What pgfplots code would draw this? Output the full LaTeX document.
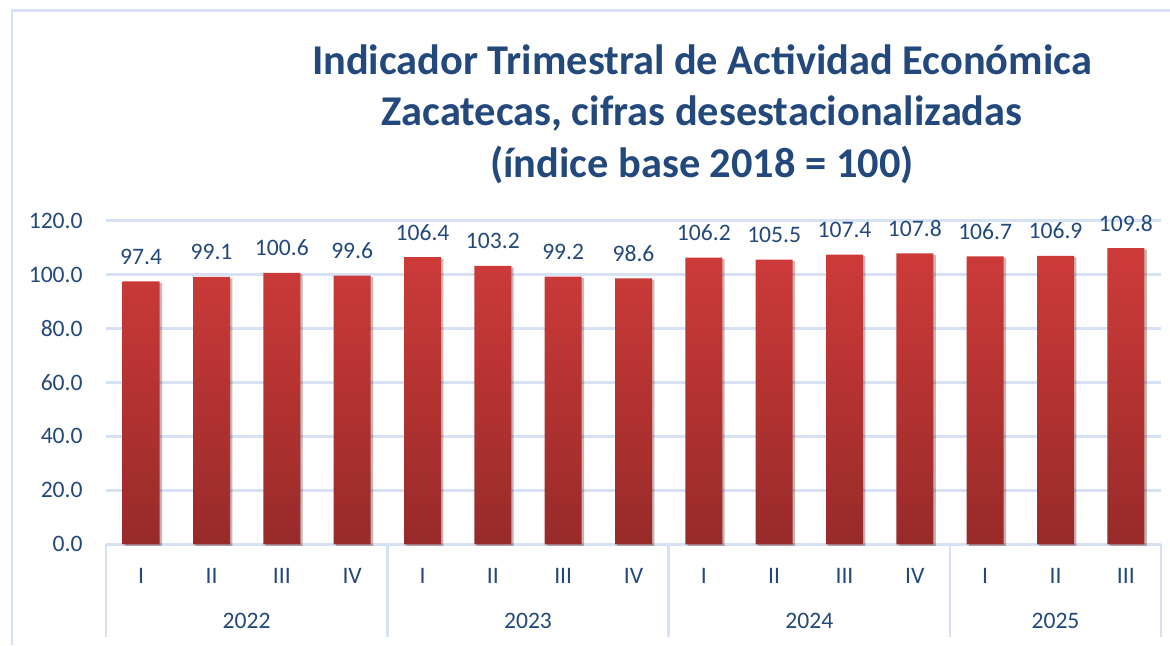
\documentclass[border=0pt]{standalone}
\usepackage{fontspec}
\setmainfont{Carlito}
\usepackage{pgfplots}
\usetikzlibrary{shadows}
\pgfplotsset{compat=1.18}
\definecolor{txtblue}{RGB}{34,72,124}
\definecolor{gridc}{RGB}{214,226,243}
\definecolor{bartop}{RGB}{206,59,57}
\definecolor{barbot}{RGB}{152,42,42}
\begin{document}
\begin{tikzpicture}
\path[use as bounding box] (0,0) rectangle (585pt,322.5pt);
\draw[gridc, line width=1.2pt] (6pt,0) -- (6pt,317.2pt) -- (590pt,317.2pt);
\node[txtblue, align=center, font=\fontsize{21.2}{25.8}\selectfont\bfseries] at (351pt,265.5pt)
  {Indicador Trimestral de Actividad Económica\\Zacatecas, cifras desestacionalizadas\\(índice base 2018 = 100)};
\begin{axis}[
  at={(53pt,50.35pt)}, anchor=south west,
  scale only axis, width=527.5pt, height=161.9pt,
  xmin=-0.5, xmax=14.5, ymin=0, ymax=120,
  ytick={0,20,...,120},
  xtick={0,...,14},
  xticklabels={I,II,III,IV,I,II,III,IV,I,II,III,IV,I,II,III},
  axis line style={draw=none},
  ymajorgrids, major grid style={gridc, line width=1.2pt},
  xtick pos=left, ytick pos=left,
  major tick length=0pt,
  /pgf/number format/assume math mode=true,
  yticklabel={\pgfmathprintnumber[fixed, fixed zerofill, precision=1]{\tick}},
  yticklabel style={anchor=east, inner sep=0pt, xshift=-11.5pt, font=\fontsize{11.8}{14}\selectfont, text=txtblue},
  xticklabel style={anchor=center, inner sep=0pt, yshift=-15.85pt, font=\fontsize{11.8}{14}\selectfont, text=txtblue},
  extra x ticks={-0.5,3.5,7.5,11.5,14.5},
  extra x tick labels={},
  extra x tick style={grid=none, tick align=outside, major tick length=46.35pt, tick style={draw=gridc, line width=1.2pt}},
  clip=false,
]
\addplot[ybar, bar width=18.5pt, draw=none, top color=bartop, bottom color=barbot,
  drop shadow={shadow xshift=1.2pt, shadow yshift=-0.8pt, opacity=0.18, fill=black},
  nodes near coords, nodes near coords style={text=txtblue, anchor=center, inner sep=0pt, yshift=12.5pt, font=\fontsize{11.8}{14}\selectfont, /pgf/number format/.cd, fixed, fixed zerofill, precision=1, assume math mode=true}]
  coordinates {(0,97.4) (1,99.1) (2,100.6) (3,99.6) (4,106.4) (5,103.2) (6,99.2) (7,98.6) (8,106.2) (9,105.5) (10,107.4) (11,107.8) (12,106.7) (13,106.9) (14,109.8)};
\node[text=txtblue, font=\fontsize{11.8}{14}\selectfont, inner sep=0pt, yshift=-38.35pt] at (axis cs:1.5,0) {2022};
\node[text=txtblue, font=\fontsize{11.8}{14}\selectfont, inner sep=0pt, yshift=-38.35pt] at (axis cs:5.5,0) {2023};
\node[text=txtblue, font=\fontsize{11.8}{14}\selectfont, inner sep=0pt, yshift=-38.35pt] at (axis cs:9.5,0) {2024};
\node[text=txtblue, font=\fontsize{11.8}{14}\selectfont, inner sep=0pt, yshift=-38.35pt] at (axis cs:13,0) {2025};
\end{axis}
\end{tikzpicture}
\end{document}
